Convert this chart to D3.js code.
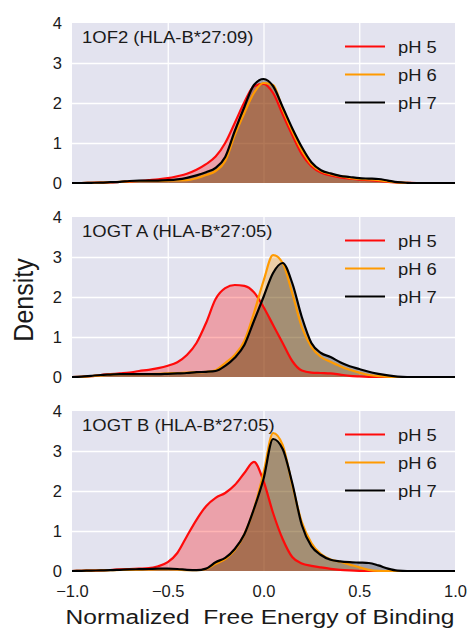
<!DOCTYPE html>
<html>
<head>
<meta charset="utf-8">
<script src="https://cdn.jsdelivr.net/npm/d3@7"></script>
<style>
  html, body { margin: 0; padding: 0; background: #ffffff; }
  svg { display: block; font-family: "Liberation Sans", Arial, sans-serif; }
</style>
</head>
<body>
<svg id="chart" width="468" height="629"></svg>
<script>
// Normalized free energy grid on which each density curve is sampled
const energyGrid = [-1.00,-0.95,-0.90,-0.85,-0.80,-0.75,-0.70,-0.65,-0.60,-0.55,-0.50,-0.45,-0.40,-0.35,-0.30,-0.25,-0.20,-0.15,-0.10,-0.05,
                    0.00,0.05,0.10,0.15,0.20,0.25,0.30,0.35,0.40,0.45,0.50,0.55,0.60,0.65,0.70,0.75,0.80,0.85,0.90,0.95,1.00];

const panelTitles = ["1OF2 (HLA-B*27:09)", "1OGT A (HLA-B*27:05)", "1OGT B (HLA-B*27:05)"];
const seriesNames = ["pH 5", "pH 6", "pH 7"];
const xTicks = [-1.0, -0.5, 0.0, 0.5, 1.0];
const yTicks = [0, 1, 2, 3, 4];
const xLabel = "Normalized  Free Energy of Binding";
const yLabel = "Density";

// 1OF2 (HLA-B*27:09)
const of2_pH5 = [0,0,0.005,0.01,0.015,0.025,0.035,0.05,0.07,0.09,0.12,0.17,0.23,0.33,0.47,0.66,1.00,1.50,2.02,2.42,
                 2.48,2.25,1.72,1.20,0.72,0.42,0.26,0.19,0.14,0.11,0.085,0.07,0.05,0.03,0.01,0.005,0,0,0,0,0];
const of2_pH6 = [0,0,0.005,0.01,0.02,0.03,0.04,0.05,0.05,0.05,0.06,0.065,0.07,0.12,0.20,0.30,0.55,1.20,1.75,2.25,
                 2.50,2.45,1.85,1.30,0.82,0.47,0.30,0.22,0.17,0.13,0.10,0.09,0.07,0.04,0.015,0.005,0,0,0,0,0];
const of2_pH7 = [0,0,0.005,0.01,0.02,0.03,0.05,0.06,0.06,0.06,0.07,0.09,0.13,0.19,0.27,0.38,0.65,1.30,1.90,2.45,
                 2.60,2.42,1.90,1.37,0.90,0.52,0.32,0.24,0.18,0.15,0.12,0.11,0.10,0.06,0.02,0.005,0,0,0,0,0];

// 1OGT chain A (HLA-B*27:05)
const ogtA_pH5 = [0,0.005,0.02,0.05,0.07,0.09,0.11,0.15,0.18,0.22,0.28,0.37,0.55,0.85,1.35,1.95,2.22,2.30,2.28,2.12,
                  1.75,1.30,0.85,0.40,0.16,0.11,0.10,0.09,0.06,0.03,0.015,0.005,0,0,0,0,0,0,0,0,0];
const ogtA_pH6 = [0,0.005,0.02,0.04,0.06,0.07,0.07,0.07,0.07,0.08,0.09,0.10,0.11,0.12,0.13,0.17,0.35,0.55,0.90,1.60,
                  2.40,3.05,2.85,2.10,1.25,0.75,0.50,0.38,0.27,0.18,0.11,0.05,0.02,0.005,0,0,0,0,0,0,0];
const ogtA_pH7 = [0,0.01,0.03,0.05,0.06,0.07,0.07,0.07,0.07,0.07,0.08,0.09,0.10,0.12,0.13,0.15,0.28,0.48,0.80,1.40,
                  2.00,2.60,2.85,2.35,1.50,0.85,0.60,0.50,0.37,0.27,0.20,0.13,0.08,0.04,0.01,0,0,0,0,0,0];

// 1OGT chain B (HLA-B*27:05)
const ogtB_pH5 = [0,0.005,0.01,0.015,0.025,0.04,0.05,0.06,0.07,0.12,0.22,0.45,0.87,1.28,1.62,1.83,1.95,2.15,2.45,2.73,
                  2.25,1.45,0.80,0.35,0.19,0.13,0.09,0.055,0.03,0.015,0.005,0,0,0,0,0,0,0,0,0,0];
const ogtB_pH6 = [0,0.005,0.01,0.015,0.02,0.025,0.03,0.035,0.04,0.045,0.045,0.04,0.02,0.02,0.05,0.18,0.30,0.52,0.92,1.55,
                  2.45,3.45,3.15,2.15,1.22,0.70,0.42,0.29,0.23,0.16,0.09,0.03,0.005,0,0,0,0,0,0,0,0];
const ogtB_pH7 = [0,0.005,0.01,0.015,0.02,0.03,0.04,0.045,0.05,0.06,0.06,0.05,0.03,0.02,0.06,0.22,0.33,0.55,0.92,1.55,
                  2.30,3.30,3.05,2.20,1.15,0.62,0.40,0.28,0.24,0.22,0.21,0.20,0.14,0.06,0.01,0,0,0,0,0,0];

const panelSeries = [
  [of2_pH5, of2_pH6, of2_pH7],
  [ogtA_pH5, ogtA_pH6, ogtA_pH7],
  [ogtB_pH5, ogtB_pH6, ogtB_pH7]
];

// ---- styling / layout ----
const seriesColors = ["#ff0a0a", "#ff9a00", "#000000"];
const fillOpacity = 0.3;
const panelBg = "#e3e3ef";
const plotLeft = 72, plotRight = 455, panelHeight = 160;
const panelTops = [23, 217, 411];

const svg = d3.select("#chart");
const x = d3.scaleLinear().domain([-1, 1]).range([plotLeft, plotRight]);

// text helper: glyphs drawn slightly wide, as in the original figure
function wideText(parent, px, py, str, size, sx, anchor) {
  return parent.append("text")
    .attr("transform", `translate(${px},${py}) scale(${sx},1)`)
    .attr("font-size", size)
    .attr("text-anchor", anchor)
    .attr("fill", "#1a1a1a")
    .style("white-space", "pre")
    .text(str);
}

panelSeries.forEach((series, pi) => {
  const top = panelTops[pi];
  const bottom = top + panelHeight;
  const y = d3.scaleLinear().domain([0, 4]).range([bottom, top]);
  const g = svg.append("g");

  // plot background
  g.append("rect")
    .attr("x", plotLeft).attr("y", top)
    .attr("width", plotRight - plotLeft).attr("height", panelHeight)
    .attr("fill", panelBg);

  // white grid lines
  g.append("g")
    .attr("transform", `translate(0,${bottom})`)
    .call(d3.axisBottom(x).tickValues(xTicks.slice(1, -1)).tickSize(-panelHeight).tickFormat(""))
    .call(a => a.select(".domain").remove())
    .call(a => a.selectAll("line").attr("stroke", "#ffffff").attr("stroke-width", 1.3));
  g.append("g")
    .attr("transform", `translate(${plotLeft},0)`)
    .call(d3.axisLeft(y).tickValues(yTicks.slice(1, -1)).tickSize(-(plotRight - plotLeft)).tickFormat(""))
    .call(a => a.select(".domain").remove())
    .call(a => a.selectAll("line").attr("stroke", "#ffffff").attr("stroke-width", 1.3));

  // y tick labels
  g.append("g")
    .attr("transform", `translate(${plotLeft},0)`)
    .call(d3.axisLeft(y).tickValues(yTicks).tickSize(0).tickPadding(10).tickFormat(d3.format("d")))
    .call(a => a.select(".domain").remove())
    .call(a => a.selectAll("text")
      .attr("font-size", 16.5)
      .attr("font-family", "'Liberation Sans', Arial, sans-serif")
      .attr("fill", "#1a1a1a"));

  const area = d3.area()
    .x((d, i) => x(energyGrid[i]))
    .y0(y(0))
    .y1(d => y(d))
    .curve(d3.curveMonotoneX);
  const line = d3.line()
    .x((d, i) => x(energyGrid[i]))
    .y(d => y(d))
    .curve(d3.curveMonotoneX);

  // shaded densities first, outlines on top
  series.forEach((vals, si) => {
    g.append("path").datum(vals)
      .attr("d", area)
      .attr("fill", seriesColors[si])
      .attr("fill-opacity", fillOpacity)
      .attr("stroke", "none");
  });
  series.forEach((vals, si) => {
    g.append("path").datum(vals)
      .attr("d", line)
      .attr("fill", "none")
      .attr("stroke", seriesColors[si])
      .attr("stroke-width", 2.2)
      .attr("stroke-linejoin", "round");
  });

  // panel title
  wideText(g, 82, top + 19.7, panelTitles[pi], 16.5, 1.12, "start");

  // legend
  seriesNames.forEach((name, si) => {
    const ly = top + 23.5 + si * 28;
    g.append("line")
      .attr("x1", 345).attr("x2", 385)
      .attr("y1", ly).attr("y2", ly)
      .attr("stroke", seriesColors[si])
      .attr("stroke-width", 2.2);
    wideText(g, 398, ly + 6.5, name, 17, 1.08, "start");
  });
});

// x axis tick labels under the last panel
const lastBottom = panelTops[2] + panelHeight;
svg.append("g")
  .attr("transform", `translate(0,${lastBottom})`)
  .call(d3.axisBottom(x).tickValues(xTicks).tickSize(0).tickPadding(14).tickFormat(d3.format(".1f")))
  .call(a => a.select(".domain").remove())
  .call(a => a.selectAll("text")
    .attr("font-size", 16.5)
    .attr("font-family", "'Liberation Sans', Arial, sans-serif")
    .attr("fill", "#1a1a1a"));

// axis titles
wideText(svg, 260, 624, xLabel, 21, 1.17, "middle");
svg.append("text")
  .attr("transform", "translate(33,300) scale(1.1,1) rotate(-90)")
  .attr("font-size", 25)
  .attr("text-anchor", "middle")
  .attr("fill", "#1a1a1a")
  .text(yLabel);
</script>
</body>
</html>
